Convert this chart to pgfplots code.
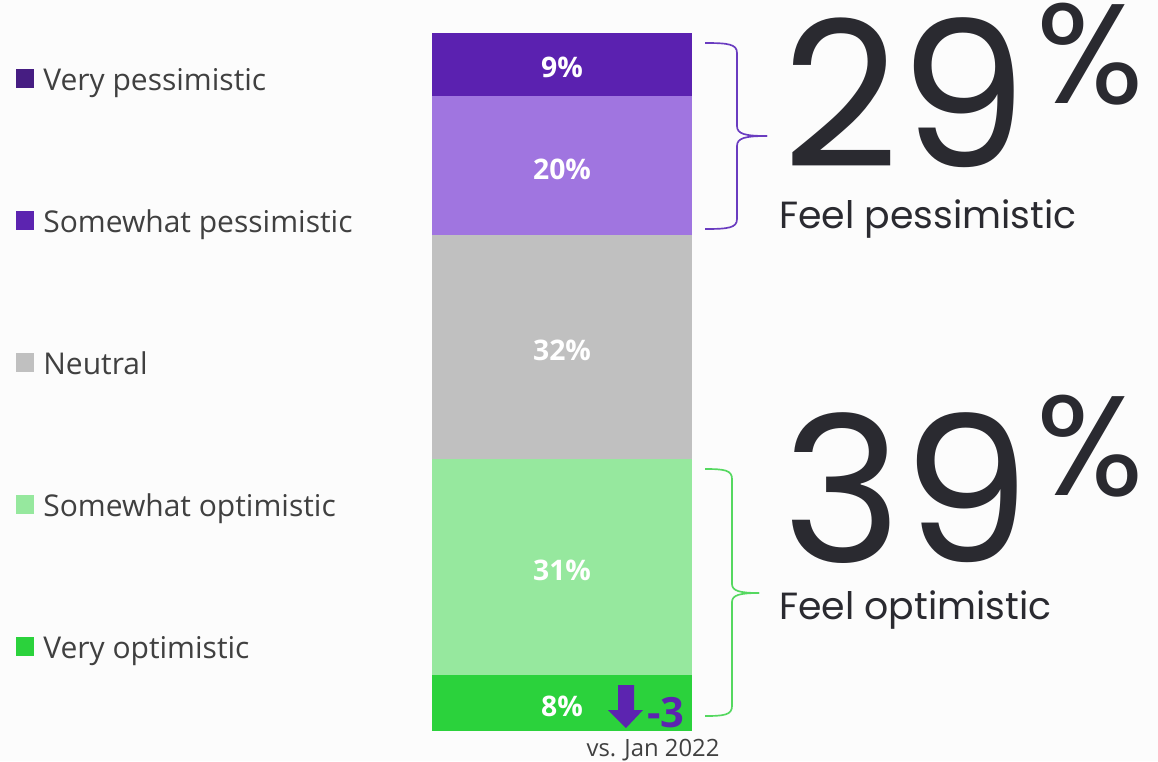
\documentclass[border=0pt]{standalone}
\usepackage{pgfplots}
\pgfplotsset{compat=1.18}
\usepackage{fontspec}
\setmainfont{Open Sans}
\newfontfamily\bigfont{Poppins}
\definecolor{bg}{HTML}{FCFCFC}
\definecolor{vpess}{HTML}{5B21B0}
\definecolor{spess}{HTML}{A075E0}
\definecolor{neut}{HTML}{C0C0C0}
\definecolor{sopt}{HTML}{96E89E}
\definecolor{vopt}{HTML}{2BD23C}
\definecolor{legvp}{HTML}{461D82}
\definecolor{legsp}{HTML}{5C24B0}
\definecolor{txt}{HTML}{404040}
\definecolor{bigtxt}{HTML}{2A2A30}
\definecolor{brpur}{HTML}{6A3CC0}
\definecolor{brgrn}{HTML}{55D860}
\begin{document}
\begin{tikzpicture}
\begin{scope}[x=0.6pt,y=-0.6pt]
\fill[bg] (0,0) rectangle (1158,761);
\end{scope}
\begin{axis}[
  at={(259.2pt,-438.6pt)}, anchor=south west,
  width=156pt, height=418.8pt, scale only axis,
  hide axis, xmin=-0.5, xmax=0.5, ymin=0, ymax=100,
  ybar stacked, bar width=156pt,
  clip=false,
  point meta=explicit symbolic,
  nodes near coords,
  every node near coord/.append style={font=\fontsize{17pt}{19pt}\selectfont\bfseries, text=white, anchor=center, yshift=-2pt},
]
\addplot[ybar, fill=vopt, draw=none] coordinates {(0,8) [8\%]};
\addplot[ybar, fill=sopt, draw=none] coordinates {(0,31) [31\%]};
\addplot[ybar, fill=neut, draw=none] coordinates {(0,32) [32\%]};
\addplot[ybar, fill=spess, draw=none] coordinates {(0,20) [20\%]};
\addplot[ybar, fill=vpess, draw=none] coordinates {(0,9) [9\%]};
\end{axis}
\begin{scope}[x=0.6pt,y=-0.6pt]
% legend
\foreach \c/\t/\yy in {legvp/Very pessimistic/90, legsp/Somewhat pessimistic/232, neut/Neutral/374, sopt/Somewhat optimistic/516, vopt/Very optimistic/658}{
  \fill[\c] (16,\yy-21) rectangle (34,\yy-2);
  \node[anchor=base west, inner sep=0pt, text=txt, font=\fontsize{18pt}{20pt}\selectfont] at (43,\yy) {\t};
}
% brackets
\draw[brpur, line width=1pt] (705,43) .. controls (728,43) and (737,44) .. (737,53) -- (737,126) .. controls (737,134) and (745,136) .. (767,136);
\draw[brpur, line width=1pt] (705,229) .. controls (728,229) and (737,228) .. (737,219) -- (737,146) .. controls (737,138) and (745,136) .. (767,136);
\draw[brgrn, line width=1pt] (705,469) .. controls (724,469) and (732,470) .. (732,479) -- (732,584) .. controls (732,591) and (740,593) .. (759,593);
\draw[brgrn, line width=1pt] (705,716) .. controls (724,716) and (732,715) .. (732,706) -- (732,602) .. controls (732,595) and (740,593) .. (759,593);
% big numbers
\node[anchor=base west, inner sep=0pt, text depth=0pt, text=bigtxt, font=\bigfont\fontsize{122pt}{130pt}\selectfont] at (782,167) {29};
\node[anchor=base west, inner sep=0pt, text=bigtxt, font=\bigfont\fontsize{85pt}{90pt}\selectfont] at (1036,103) {\%};
\node[anchor=base west, inner sep=0pt, text=bigtxt, font=\bigfont\fontsize{22.7pt}{24pt}\selectfont] at (779,228) {Feel pessimistic};
\node[anchor=base west, inner sep=0pt, text depth=0pt, text=bigtxt, font=\bigfont\fontsize{122pt}{130pt}\selectfont] at (782,562) {39};
\node[anchor=base west, inner sep=0pt, text=bigtxt, font=\bigfont\fontsize{85pt}{90pt}\selectfont] at (1036,495) {\%};
\node[anchor=base west, inner sep=0pt, text=bigtxt, font=\bigfont\fontsize{22.7pt}{24pt}\selectfont] at (779,619) {Feel optimistic};
% arrow
\fill[legsp] (618,685) -- (634,685) -- (634,710) -- (643,710) -- (626,728) -- (608,710) -- (618,710) -- cycle;
\node[anchor=base west, inner sep=0pt, text=legsp, font=\fontsize{25pt}{27pt}\selectfont\bfseries] at (647,727) {-3};
\node[anchor=base, inner sep=0pt, text=txt, font=\fontsize{14.3pt}{16pt}\selectfont] at (653,756) {vs. Jan 2022};
\end{scope}
\pgfresetboundingbox
\begin{scope}[x=0.6pt,y=-0.6pt]
\useasboundingbox (0,0) rectangle (1158,761);
\end{scope}
\end{tikzpicture}
\end{document}
